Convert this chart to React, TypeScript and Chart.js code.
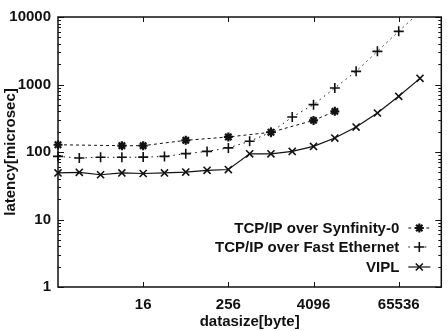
import React, { useEffect, useRef } from 'react';
import { Chart, registerables } from 'chart.js';
import { drawPoint } from 'chart.js/helpers';

Chart.register(...registerables);

// datasize [byte] sampled at powers of two
const sizes = [1, 2, 4, 8, 16, 32, 64, 128, 256, 512, 1024, 2048, 4096, 8192, 16384, 32768, 65536, 131072];
const viplLatency = [49, 50, 46, 49, 48, 49, 50.5, 53.5, 55, 94, 94, 102, 121, 161, 234, 378, 668, 1234];
const fastEthernetLatency = [86, 81.5, 83.5, 83.5, 84, 86, 94.5, 102, 115, 144, 196, 330, 503, 888, 1567, 3100, 6130, 12000];
const synfinitySizes = [1, 8, 16, 64, 256, 1024, 4096, 8192];
const synfinityLatency = [128, 124, 124, 149, 167, 196, 294, 400];

const xTickValues = [16, 256, 4096, 65536];
const yTickValues = [1, 10, 100, 1000, 10000];
const seriesLabels = ['TCP/IP over Synfinity-0', 'TCP/IP over Fast Ethernet', 'VIPL'];

const FONT = '"Liberation Sans", Arial, Helvetica, sans-serif';
const INK = '#111';

const framePlugin = {
  id: 'frame',
  afterDraw(chart: any) {
    const { ctx, chartArea: a, scales } = chart;
    ctx.save();
    ctx.strokeStyle = INK;
    ctx.setLineDash([]);
    ctx.lineWidth = 1.5;
    ctx.strokeRect(a.left, a.top, a.right - a.left, a.bottom - a.top);
    ctx.lineWidth = 1;
    ctx.beginPath();
    xTickValues.forEach((v) => {
      const px = Math.round(scales.x.getPixelForValue(v)) + 0.5;
      ctx.moveTo(px, a.bottom);
      ctx.lineTo(px, a.bottom - 5);
      ctx.moveTo(px, a.top);
      ctx.lineTo(px, a.top + 5);
    });
    yTickValues.forEach((d) => {
      const py = Math.round(scales.y.getPixelForValue(d)) + 0.5;
      ctx.moveTo(a.left, py);
      ctx.lineTo(a.left + 6, py);
      ctx.moveTo(a.right, py);
      ctx.lineTo(a.right - 6, py);
      if (d < 10000) {
        for (let m = 2; m <= 9; m++) {
          const pm = Math.round(scales.y.getPixelForValue(d * m)) + 0.5;
          ctx.moveTo(a.left, pm);
          ctx.lineTo(a.left + 3, pm);
          ctx.moveTo(a.right, pm);
          ctx.lineTo(a.right - 3, pm);
        }
      }
    });
    ctx.stroke();

    // legend inside the plot, bottom right
    const rows = [a.bottom - 59, a.bottom - 40, a.bottom - 20];
    const textRight = a.right - 42;
    const sx0 = a.right - 33;
    const sx1 = a.right - 11;
    const mx = a.right - 22;
    ctx.font = `bold 15px ${FONT}`;
    ctx.textAlign = 'right';
    ctx.textBaseline = 'middle';
    ctx.fillStyle = INK;
    chart.data.datasets.forEach((ds: any, i: number) => {
      const y = rows[i];
      ctx.fillText(seriesLabels[i], textRight, y + 1);
      ctx.save();
      ctx.lineWidth = ds.borderWidth;
      ctx.setLineDash(ds.borderDash || []);
      ctx.beginPath();
      ctx.moveTo(sx0, y);
      ctx.lineTo(sx1, y);
      ctx.stroke();
      ctx.setLineDash([]);
      ctx.lineWidth = ds.pointBorderWidth;
      ctx.strokeStyle = INK;
      ctx.fillStyle = INK;
      drawPoint(ctx, { pointStyle: ds.pointStyle, radius: ds.pointRadius, borderWidth: ds.pointBorderWidth, rotation: 0 } as any, mx, y);
      ctx.restore();
    });
    ctx.restore();
  },
};

export default function App() {
  const ref = useRef<HTMLCanvasElement | null>(null);
  useEffect(() => {
    if (!ref.current) return;
    Chart.defaults.font.family = FONT;
    const chart = new Chart(ref.current, {
      type: 'line',
      data: {
        datasets: [
          {
            label: seriesLabels[0],
            data: synfinitySizes.map((s, i) => ({ x: s, y: synfinityLatency[i] })),
            borderColor: INK,
            backgroundColor: INK,
            borderWidth: 1,
            borderDash: [3, 3],
            pointStyle: 'star',
            pointRadius: 4.5,
            pointBorderWidth: 2.2,
            pointBorderColor: INK,
            pointBackgroundColor: INK,
            clip: false as any,
          },
          {
            label: seriesLabels[1],
            data: sizes.map((s, i) => ({ x: s, y: fastEthernetLatency[i] })),
            borderColor: INK,
            backgroundColor: INK,
            borderWidth: 1,
            borderDash: [1.5, 4],
            pointStyle: 'cross',
            pointRadius: 5,
            pointBorderWidth: 1.6,
            pointBorderColor: INK,
            pointBackgroundColor: INK,
            clip: { left: 10, top: 0, right: 10, bottom: 10 } as any,
          },
          {
            label: seriesLabels[2],
            data: sizes.map((s, i) => ({ x: s, y: viplLatency[i] })),
            borderColor: INK,
            backgroundColor: INK,
            borderWidth: 1.2,
            pointStyle: 'crossRot',
            pointRadius: 5,
            pointBorderWidth: 1.6,
            pointBorderColor: INK,
            pointBackgroundColor: INK,
            clip: false as any,
          },
        ],
      },
      options: {
        responsive: false,
        animation: false,
        events: [],
        layout: { padding: { top: 17, right: 1, left: 0, bottom: 0 } },
        plugins: { legend: { display: false }, tooltip: { enabled: false } },
        elements: { line: { tension: 0 } },
        scales: {
          x: {
            type: 'logarithmic',
            min: 1,
            max: 262144,
            grid: { display: false, drawTicks: false },
            border: { display: false },
            afterBuildTicks: (s: any) => {
              s.ticks = xTickValues.map((v) => ({ value: v }));
            },
            afterFit: (s: any) => {
              s.height = 44;
            },
            ticks: {
              autoSkip: false,
              maxRotation: 0,
              padding: 9,
              color: INK,
              font: { size: 15, weight: 'bold' },
              callback: (v: any) => String(v),
            },
            title: {
              display: true,
              text: 'datasize[byte]',
              color: INK,
              font: { size: 15, weight: 'bold', lineHeight: 1.2 },
              padding: { top: 0, bottom: 0 },
            },
          },
          y: {
            type: 'logarithmic',
            min: 1,
            max: 10000,
            grid: { display: false, drawTicks: false },
            border: { display: false },
            afterBuildTicks: (s: any) => {
              s.ticks = yTickValues.map((v) => ({ value: v }));
            },
            afterFit: (s: any) => {
              s.width = 58;
            },
            ticks: {
              autoSkip: false,
              padding: 7,
              color: INK,
              font: { size: 15, weight: 'bold' },
              callback: (v: any) => String(v),
            },
            title: {
              display: true,
              text: 'latency[microsec]',
              color: INK,
              font: { size: 15, weight: 'bold', lineHeight: 1.2 },
              padding: { top: 2, bottom: 0 },
            },
          },
        },
      },
      plugins: [framePlugin],
    } as any);
    return () => chart.destroy();
  }, []);
  return (
    <div style={{ position: 'absolute', left: 0, top: 0, width: 448, height: 331, background: '#fff' }}>
      <canvas ref={ref} width={448} height={331} style={{ display: 'block', width: 448, height: 331 }} />
    </div>
  );
}
